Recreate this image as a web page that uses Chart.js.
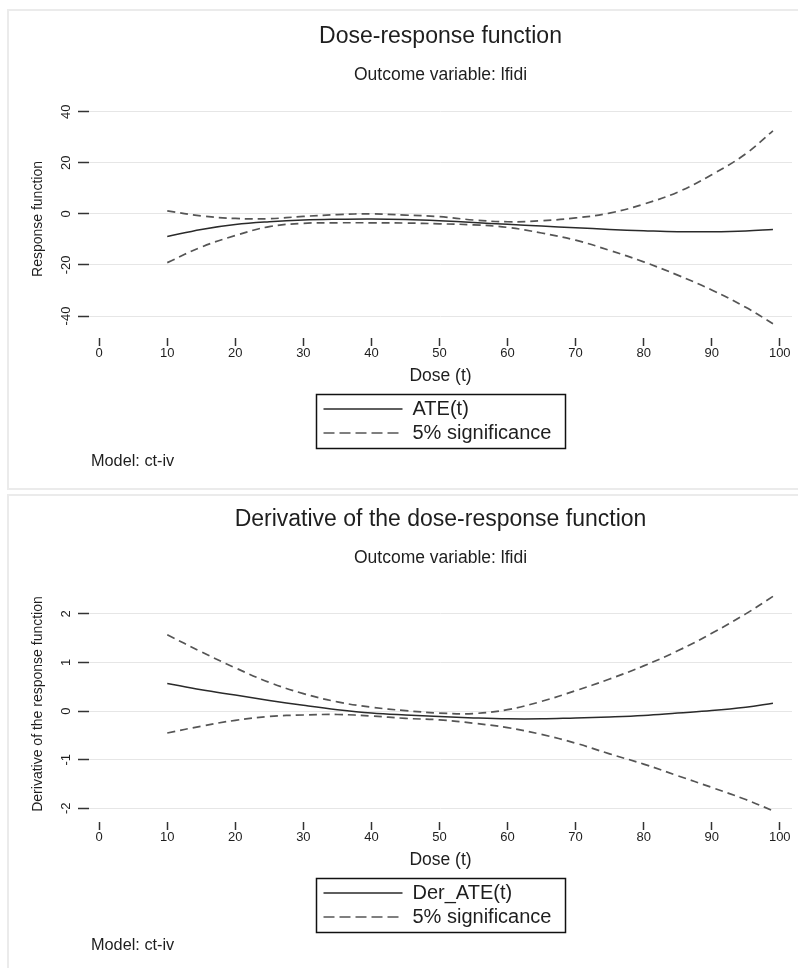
<!DOCTYPE html>
<html>
<head>
<meta charset="utf-8">
<title>Dose-response function</title>
<script src="https://cdn.jsdelivr.net/npm/chart.js@4.4.1/dist/chart.umd.min.js"></script>
<style>
  html, body { margin: 0; background: #fff; overflow: hidden; }
  .frame { position: absolute; border: 2px solid #ebebeb; box-sizing: border-box; }
  canvas { position: absolute; }
</style>
</head>
<body>
<div class="frame" style="left:7px;top:9px;width:800px;height:481px"></div>
<div class="frame" style="left:7px;top:494px;width:800px;height:490px"></div>
<canvas id="doseChart" width="790" height="479" style="left:8px;top:10px"></canvas>
<canvas id="derivChart" width="790" height="479" style="left:8px;top:495px"></canvas>
<script>
const dose = [10, 15, 20, 25, 30, 35, 40, 45, 50, 55, 60, 65, 70, 75, 80, 85, 90, 95, 99];

// dose-response function
const ate      = [-8.9, -6.1, -4.2, -3.1, -2.4, -2.1, -2.0, -2.2, -2.7, -3.4, -4.1, -4.8, -5.4, -6.1, -6.6, -7.0, -7.0, -6.7, -6.1];
const ateUpper = [1.2, -0.8, -1.8, -1.9, -1.0, -0.3, 0.0, -0.5, -1.1, -2.4, -3.1, -2.7, -1.6, 0.3, 3.8, 8.5, 15.3, 23.5, 32.5];
const ateLower = [-19.1, -13.0, -8.5, -5.0, -3.7, -3.5, -3.5, -3.6, -3.9, -4.3, -5.3, -7.5, -10.3, -14.3, -18.8, -24.0, -29.8, -36.6, -43.0];

// derivative of the dose-response function
const derAte   = [0.57, 0.44, 0.33, 0.22, 0.12, 0.03, -0.04, -0.08, -0.11, -0.14, -0.16, -0.16, -0.14, -0.12, -0.09, -0.04, 0.01, 0.08, 0.16];
const derUpper = [1.57, 1.22, 0.89, 0.59, 0.36, 0.19, 0.08, 0.01, -0.04, -0.05, 0.03, 0.2, 0.42, 0.66, 0.93, 1.24, 1.6, 2.0, 2.36];
const derLower = [-0.45, -0.31, -0.19, -0.11, -0.08, -0.07, -0.1, -0.15, -0.18, -0.25, -0.34, -0.48, -0.66, -0.88, -1.09, -1.33, -1.57, -1.82, -2.05];

const xTickValues = [0, 10, 20, 30, 40, 50, 60, 70, 80, 90, 100];
const ateTickValues = [-40, -20, 0, 20, 40];
const derTickValues = [-2, -1, 0, 1, 2];

const FONT = '"Liberation Sans", Arial, Helvetica, sans-serif';
const INK = '#1e1e1e';

function toXY(xs, ys) {
  return xs.map((x, i) => ({ x: x, y: ys[i] }));
}

// rotated y labels, boxed legend and the model note, like the Stata graph
const stataExtras = {
  id: 'stataExtras',
  afterDraw(chart, args, opts) {
    const ctx = chart.ctx;
    const area = chart.chartArea;
    const yScale = chart.scales.y;
    ctx.save();
    ctx.fillStyle = INK;
    ctx.font = '13px ' + FONT;
    ctx.textAlign = 'center';
    ctx.textBaseline = 'middle';
    opts.yTicks.forEach(v => {
      ctx.save();
      ctx.translate(58, yScale.getPixelForValue(v));
      ctx.rotate(-Math.PI / 2);
      ctx.fillText(String(v), 0, 0);
      ctx.restore();
    });

    const w = 249, h = 54;
    const lx = Math.round((area.left + area.right) / 2 - w / 2) + 0.5;
    const ly = Math.round(area.bottom + 56) + 0.5;
    ctx.strokeStyle = '#111';
    ctx.lineWidth = 1.5;
    ctx.setLineDash([]);
    ctx.strokeRect(lx, ly, w, h);

    const rows = [
      { label: opts.mainLabel, dash: [], color: '#2a2a2a' },
      { label: '5% significance', dash: [11, 5], color: '#555' }
    ];
    ctx.font = '20px ' + FONT;
    ctx.textAlign = 'left';
    rows.forEach((r, i) => {
      const ry = ly + 14.5 + i * 24;
      ctx.beginPath();
      ctx.setLineDash(r.dash);
      ctx.strokeStyle = r.color;
      ctx.lineWidth = 1.6;
      ctx.moveTo(lx + 7, ry);
      ctx.lineTo(lx + 86, ry);
      ctx.stroke();
      ctx.fillText(r.label, lx + 96, ry);
    });

    ctx.setLineDash([]);
    ctx.font = '16.3px ' + FONT;
    ctx.fillText('Model: ct-iv', area.left + 2, area.bottom + 124);
    ctx.restore();
  }
};

function makeChart(id, o) {
  const solid = { borderColor: '#2a2a2a', borderWidth: 1.5, pointRadius: 0, tension: 0.4 };
  const dashed = { borderColor: '#555', borderWidth: 1.7, borderDash: [8, 5], pointRadius: 0, tension: 0.4 };
  return new Chart(document.getElementById(id), {
    type: 'line',
    data: {
      datasets: [
        Object.assign({ label: o.mainLabel, data: toXY(dose, o.main) }, solid),
        Object.assign({ label: '5% significance', data: toXY(dose, o.upper) }, dashed),
        Object.assign({ label: '5% significance', data: toXY(dose, o.lower) }, dashed)
      ]
    },
    options: {
      responsive: false,
      animation: false,
      layout: { padding: { left: 0, right: 6, top: 0, bottom: o.bottomPad } },
      plugins: {
        legend: { display: false },
        tooltip: { enabled: false },
        title: {
          display: true,
          text: o.title,
          fullSize: false,
          color: INK,
          font: { family: FONT, size: 23, weight: 'normal' },
          padding: { top: o.titleTop, bottom: 0 }
        },
        subtitle: {
          display: true,
          text: 'Outcome variable: lfidi',
          fullSize: false,
          color: INK,
          font: { family: FONT, size: 17.5, weight: 'normal' },
          padding: { top: 13.7, bottom: o.subBottom }
        },
        stataExtras: { yTicks: o.yTicks, mainLabel: o.mainLabel }
      },
      scales: {
        x: {
          type: 'linear',
          min: -1.5,
          max: 101.8,
          afterBuildTicks: s => { s.ticks = xTickValues.map(v => ({ value: v })); },
          afterFit: s => { s.height = 50; },
          border: { display: false },
          grid: { drawOnChartArea: false, tickLength: 8, tickColor: '#333', tickWidth: 1.5 },
          ticks: { color: INK, font: { family: FONT, size: 13 }, padding: 0, maxRotation: 0, autoSkip: false },
          title: { display: true, text: 'Dose (t)', color: INK, font: { family: FONT, size: 17.5 }, padding: { top: 0, bottom: 1.5 } }
        },
        y: {
          min: o.yMin,
          max: o.yMax,
          afterBuildTicks: s => { s.ticks = o.yTicks.map(v => ({ value: v })); },
          afterFit: s => { s.width = 81; },
          border: { display: false },
          grid: { color: '#e6e6e6', lineWidth: 1, tickLength: 11, tickColor: '#333', tickWidth: 1.5 },
          ticks: { display: false },
          title: { display: true, text: o.yTitle, color: INK, font: { family: FONT, size: 14 }, padding: { top: 21.6, bottom: 0 } }
        }
      }
    },
    plugins: [stataExtras]
  });
}

makeChart('doseChart', {
  title: 'Dose-response function',
  yTitle: 'Response function',
  mainLabel: 'ATE(t)',
  main: ate, upper: ateUpper, lower: ateLower,
  yTicks: ateTickValues,
  yMin: -48.61, yMax: 44.58,
  titleTop: 13.2, subBottom: 14.5,
  bottomPad: 101
});

makeChart('derivChart', {
  title: 'Derivative of the dose-response function',
  yTitle: 'Derivative of the response function',
  mainLabel: 'Der_ATE(t)',
  main: derAte, upper: derUpper, lower: derLower,
  yTicks: derTickValues,
  yMin: -2.282, yMax: 2.574,
  titleTop: 11.2, subBottom: 17.5,
  bottomPad: 102
});
</script>
</body>
</html>
